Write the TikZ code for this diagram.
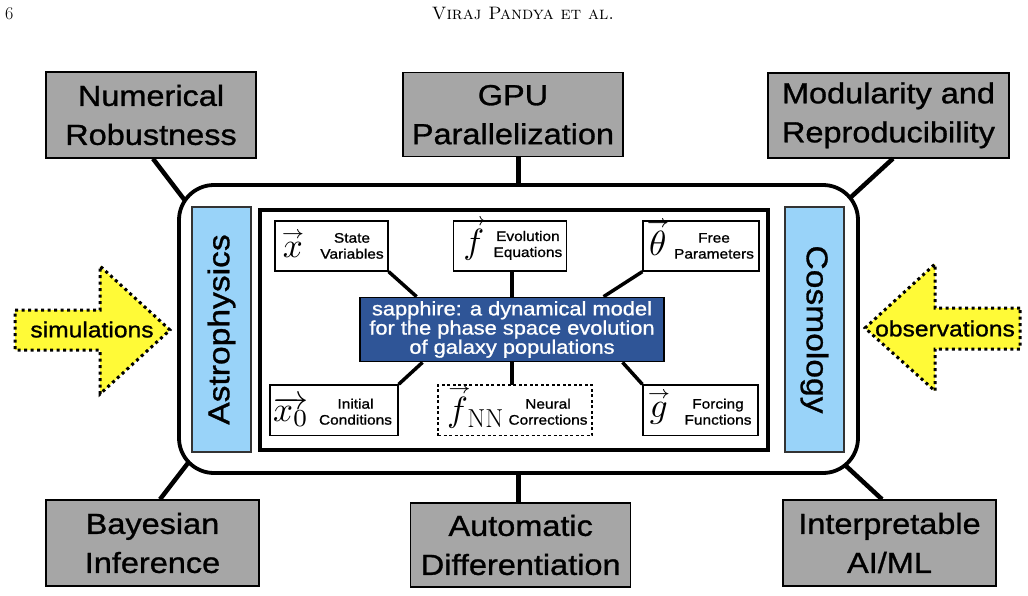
\documentclass[tikz,border=0pt]{standalone}
\usepackage{graphicx}
\usepackage{fontspec}
\newfontfamily\hv[FakeStretch=1.12,FakeBold=1.0]{Liberation Sans}
\usetikzlibrary{calc}
\definecolor{boxgray}{RGB}{166,166,166}
\definecolor{barblue}{RGB}{153,211,249}
\definecolor{coreblue}{RGB}{47,85,151}
\definecolor{arrowyellow}{RGB}{255,250,55}
% #1 box width, #2 symbol indent, #3 symbol shift, #4 symbol, #5 width of centred text slot (from right), #6 text shift, #7 text
\newcommand\sbc[7]{\makebox[#1][l]{\hspace*{#2}\raisebox{#3}{#4}}\llap{\makebox[#5]{\raisebox{#6}{\parbox[c]{90pt}{\centering\lineskiplimit=-20pt #7}}}}}
\newcommand\msym[1]{\scalebox{3.5}{\fontsize{10}{10}\selectfont#1}}
% arrow set centred over a symbol
\newcommand\vv[2][0pt]{\vbox{\offinterlineskip\halign{\hfil##\hfil\cr\hspace*{#1}$\scriptscriptstyle\rightarrow$\cr\noalign{\kern1pt}$#2$\cr}}}
\begin{document}
\begin{tikzpicture}[x=1pt,y=-1pt,
 graybox/.style={draw=black,line width=1.4pt,fill=boxgray,inner sep=0pt,align=center,font=\hv\fontsize{29}{39}\selectfont},
 bar/.style={draw=black!80,line width=1.4pt,fill=barblue,inner sep=0pt,minimum width=59pt,minimum height=245pt,font=\hv\fontsize{30}{30}\selectfont},
 smallbox/.style={draw=black,line width=1.3pt,fill=white,inner sep=0pt,font=\hv\fontsize{13.8}{16}\selectfont},
 link/.style={line width=4.5pt},
 innerlink/.style={line width=3.5pt},
 bigarrow/.style={fill=arrowyellow,draw=black,line width=3pt,dash pattern=on 3pt off 3.5pt},
 arrowtext/.style={font=\hv\fontsize{22}{22}\selectfont}]
\useasboundingbox (0,0) rectangle (1028,595);

% header
\node[anchor=base west,inner sep=0pt,font=\fontsize{18}{18}\selectfont] (pg) at (5,19) {6};
\node[anchor=base,inner sep=0pt,font=\fontsize{18}{18}\selectfont] (hdr) at (523,19) {\textsc{Viraj Pandya et al.}};

% outer gray boxes
\node[graybox,minimum width=210pt,minimum height=86pt] (nr) at (151,115) {Numerical\\Robustness};
\node[graybox,minimum width=220pt,minimum height=84pt] (gpu) at (513,114.7) {GPU\\Parallelization};
\node[graybox,minimum width=241pt,minimum height=85pt] (mr) at (888.5,115.3) {Modularity and\\Reproducibility};
\node[graybox,minimum width=213pt,minimum height=86pt] (bi) at (152.5,543) {Bayesian\\Inference};
\node[graybox,minimum width=220pt,minimum height=84pt] (ad) at (520.7,545) {Automatic\\Differentiation};
\node[graybox,minimum width=213pt,minimum height=86pt] (ia) at (889.5,543) {Interpretable\\AI/ML};

% outer frame
\node[draw=black,line width=3.8pt,rounded corners=35pt,minimum width=679pt,minimum height=288pt,inner sep=0pt] (outer) at (518.5,329) {};
\coordinate (cnr) at (185,200.6);
\coordinate (cmr) at (850,198);
\coordinate (cbi) at (188,463);
\coordinate (cia) at (845,465);
\draw[link] ([xshift=2pt]nr.south) -- (cnr);
\draw[link] ([xshift=4.5pt]mr.south) -- (cmr);
\draw[link] ([xshift=7.5pt]bi.north) -- (cbi);
\draw[link] ([xshift=-7.5pt]ia.north) -- (cia);
\draw[link] (outer.north) -- (outer.north |- gpu.south);
\draw[link] (outer.south) -- (outer.south |- ad.north);

% side bars
\node[bar] (astro) at (221.5,329.5) {\rotatebox{90}{Astrophysics}};
\node[bar] (cosmo) at (814.5,329.5) {\rotatebox{-90}{Cosmology}};

% inner frame
\node[draw=black,line width=4pt,minimum width=508pt,minimum height=240pt,inner sep=0pt] (inner) at (514,330) {};

% vertical inner connectors (drawn first, boxes cover their ends)
\coordinate (ctrc) at (512,329.5);
\node[inner sep=0pt,minimum width=304pt,minimum height=64.4pt] (ctrshape) at (ctrc) {};
\draw[innerlink] (ctrshape.north) -- ++(0,-30);
\draw[innerlink] (ctrshape.south) -- ++(0,30);

% centre box
\node[draw=black,line width=1.3pt,fill=coreblue,text=white,inner sep=0pt,minimum width=304pt,minimum height=64.4pt,align=center,font=\hv\fontsize{19.5}{18}\selectfont] (ctr) at (ctrc) {sapphire: a dynamical model\\for the phase space evolution\\of galaxy populations};

% small boxes
\node[smallbox,minimum width=113pt,minimum height=50pt,text height=25pt,text depth=25pt] (sv) at (331.5,246)
 {\sbc{113pt}{6pt}{-11pt}{\msym{\vv{x}}}{72pt}{-3.5pt}{State\\Variables}};
\node[smallbox,minimum width=113pt,minimum height=50pt,text height=25pt,text depth=25pt] (ee) at (509.7,246)
 {\sbc{113pt}{7pt}{-7pt}{\msym{\vv[1pt]{f}}}{76.6pt}{-3pt}{Evolution\\Equations}};
\node[smallbox,minimum width=116pt,minimum height=50pt,text height=25pt,text depth=25pt] (fp) at (701,246)
 {\sbc{116pt}{3pt}{-9pt}{\msym{\vv{\theta}}}{90pt}{-3.5pt}{Free\\Parameters}};
\node[smallbox,minimum width=128pt,minimum height=50.7pt,text height=25.35pt,text depth=25.35pt] (ic) at (334,410.3)
 {\sbc{128pt}{3pt}{-11pt}{\msym{$\overrightarrow{x_0}$}}{85pt}{-5pt}{Initial\\Conditions}};
\node[smallbox,dash pattern=on 3pt off 2.5pt,minimum width=154pt,minimum height=50.7pt,text height=25.35pt,text depth=25.35pt] (nc) at (515,410.3)
 {\sbc{154pt}{6pt}{-11pt}{\msym{\vv[1pt]{f}}\hspace{-4pt}\raisebox{-6pt}{\rmfamily\fontsize{26}{26}\selectfont NN}}{88pt}{-5pt}{Neural\\Corrections}};
\node[smallbox,minimum width=115pt,minimum height=50.7pt,text height=25.35pt,text depth=25.35pt] (ff) at (700.5,410.3)
 {\sbc{115pt}{4pt}{-7pt}{\msym{\vv{g}}}{80pt}{-5pt}{Forcing\\Functions}};

% diagonal connectors, ending at box corners
\draw[innerlink] (sv.south east) -- ($(ctr.north west)!0.1875!(ctr.north east)$);
\draw[innerlink] (fp.south west) -- ($(ctr.north west)!0.8!(ctr.north east)$);
\draw[innerlink] (ic.north east) -- ($(ctr.south west)!0.207!(ctr.south east)$);
\draw[innerlink] (ff.north west) -- ($(ctr.south west)!0.862!(ctr.south east)$);

% input arrows
\draw[bigarrow] (15,310) -- (100,310) -- (100,266) -- (170,330) -- (100,394) -- (100,350) -- (15,350) -- cycle;
\node[arrowtext] (sim) at (92,329.5) {simulations};
\draw[bigarrow] (1020,308) -- (935,308) -- (935,264) -- (865,328) -- (935,391) -- (935,349) -- (1020,349) -- cycle;
\node[arrowtext] (obs) at (945,328.5) {observations};
\end{tikzpicture}
\end{document}
